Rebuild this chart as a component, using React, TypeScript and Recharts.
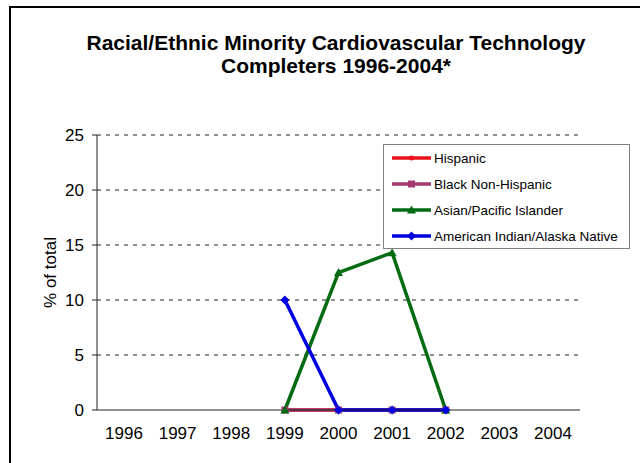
import React from 'react'
import {
  LineChart,
  Line,
  XAxis,
  YAxis,
  ReferenceLine,
  Legend,
  Label,
} from 'recharts'

const years = ['1996', '1997', '1998', '1999', '2000', '2001', '2002', '2003', '2004']
const hispanic = [null, null, null, 0, 0, 0, 0, null, null]
const blackNonHispanic = [null, null, null, 0, 0, 0, 0, null, null]
const asianPacific = [null, null, null, 0, 12.5, 14.3, 0, null, null]
const americanIndian = [null, null, null, 10, 0, 0, 0, null, null]
const yTicks = [0, 5, 10, 15, 20, 25]

const FONT = '"Liberation Sans", Arial, sans-serif'

type Shape = 'dot' | 'square' | 'triangle' | 'diamond'

const series: { key: string; name: string; color: string; shape: Shape }[] = [
  { key: 'hispanic', name: 'Hispanic', color: '#e8101a', shape: 'dot' },
  { key: 'black', name: 'Black Non-Hispanic', color: '#a33a6e', shape: 'square' },
  { key: 'asian', name: 'Asian/Pacific Islander', color: '#036b12', shape: 'triangle' },
  { key: 'amind', name: 'American Indian/Alaska Native', color: '#0000e0', shape: 'diamond' },
]

const data = years.map((year, i) => ({
  year,
  hispanic: hispanic[i],
  black: blackNonHispanic[i],
  asian: asianPacific[i],
  amind: americanIndian[i],
}))

function marker(shape: Shape, cx: number, cy: number, color: string, key?: string) {
  if (shape === 'square') return <rect key={key} x={cx - 3.5} y={cy - 3.5} width={7} height={7} fill={color} />
  if (shape === 'triangle')
    return <polygon key={key} points={`${cx},${cy - 4.5} ${cx + 4.5},${cy + 3.5} ${cx - 4.5},${cy + 3.5}`} fill={color} />
  if (shape === 'diamond')
    return <polygon key={key} points={`${cx},${cy - 4.5} ${cx + 4.5},${cy} ${cx},${cy + 4.5} ${cx - 4.5},${cy}`} fill={color} />
  return <circle key={key} cx={cx} cy={cy} r={2.5} fill={color} />
}

function makeDot(shape: Shape, color: string) {
  return (props: any) => {
    const { cx, cy, index, value } = props
    if (value == null || cx == null || cy == null) return <g key={`e-${index}`} />
    return marker(shape, cx, cy, color, `d-${index}`)
  }
}

function LegendBox() {
  return (
    <div
      style={{
        width: 247,
        height: 105,
        border: '1px solid #808080',
        background: '#fff',
        boxSizing: 'border-box',
      }}
    >
      {series.map((s) => (
        <div key={s.key} style={{ display: 'flex', alignItems: 'center', height: 26 }}>
          <svg width={50} height={12}>
            <line x1={8} y1={6} x2={47} y2={6} stroke={s.color} strokeWidth={3.5} />
            {marker(s.shape, 27.5, 6, s.color)}
          </svg>
          <span style={{ fontFamily: FONT, fontSize: 13.5, color: '#000' }}>{s.name}</span>
        </div>
      ))}
    </div>
  )
}

export default function App() {
  return (
    <div
      style={{
        position: 'absolute',
        left: 0,
        top: 0,
        width: 640,
        height: 463,
        overflow: 'hidden',
        background: '#fff',
        fontFamily: FONT,
      }}
    >
      <div
        style={{
          position: 'absolute',
          left: 9,
          top: 6,
          width: 700,
          height: 520,
          border: '2px solid #000',
        }}
      />
      <div
        style={{
          position: 'absolute',
          left: 0,
          top: 31,
          width: 672,
          textAlign: 'center',
          fontFamily: FONT,
          fontWeight: 'bold',
          fontSize: 21,
          lineHeight: '23px',
          color: '#000',
        }}
      >
        Racial/Ethnic Minority Cardiovascular Technology
        <br />
        Completers 1996-2004*
      </div>
      <div style={{ position: 'absolute', left: 0, top: 0 }}>
        <LineChart
          width={640}
          height={463}
          data={data}
          margin={{ top: 135, right: 60, bottom: 23, left: 37 }}
        >
          <XAxis
            dataKey="year"
            height={30}
            tickLine={false}
            tickSize={0}
            tickMargin={17}
            padding={{ left: 27, right: 27 }}
            axisLine={{ stroke: '#222', strokeWidth: 1 }}
            tick={{ fontSize: 17, fill: '#000', fontFamily: FONT }}
            interval={0}
          />
          <YAxis
            width={60}
            domain={[0, 25]}
            ticks={yTicks}
            tickSize={5}
            tickMargin={8}
            axisLine={{ stroke: '#222', strokeWidth: 1 }}
            tickLine={{ stroke: '#222' }}
            tick={{ fontSize: 17, fill: '#000', fontFamily: FONT }}
          >
            <Label
              content={(props: any) => {
                const vb = props.viewBox || {}
                const x = 50
                const y = (vb.y ?? 135) + (vb.height ?? 275) / 2
                return (
                  <text
                    x={x}
                    y={y}
                    transform={`rotate(-90, ${x}, ${y})`}
                    textAnchor="middle"
                    dominantBaseline="central"
                    fontSize={17}
                    fontFamily={FONT}
                    fill="#000"
                  >
                    % of total
                  </text>
                )
              }}
            />
          </YAxis>
          {yTicks
            .filter((t) => t > 0)
            .map((t) => (
              <ReferenceLine key={t} y={t} stroke="#222" strokeDasharray="4 5" />
            ))}
          <Legend
            layout="vertical"
            align="center"
            verticalAlign="middle"
            wrapperStyle={{ position: 'absolute', left: 383, top: 144, width: 247, height: 105 }}
            content={() => <LegendBox />}
          />
          {series.map((s) => (
            <Line
              key={s.key}
              type="linear"
              dataKey={s.key}
              name={s.name}
              stroke={s.color}
              strokeWidth={3.5}
              dot={makeDot(s.shape, s.color)}
              activeDot={false}
              connectNulls={false}
              isAnimationActive={false}
            />
          ))}
        </LineChart>
      </div>
    </div>
  )
}
